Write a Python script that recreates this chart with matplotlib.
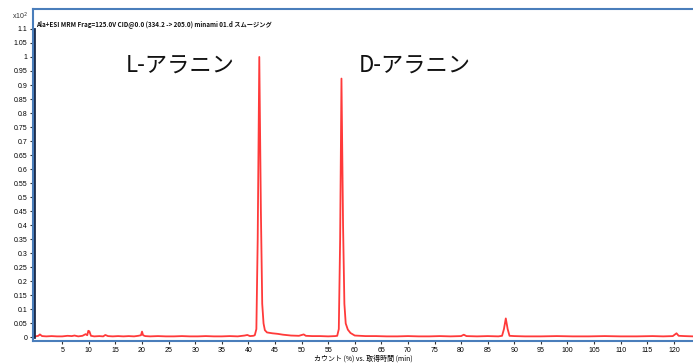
import matplotlib
matplotlib.use('Agg')
import matplotlib.pyplot as plt
import matplotlib.transforms as mtransforms

# chromatogram (time in min, counts x10^2)
times = [0.0, 0.5, 0.8, 1.2, 2, 3, 4, 5, 6, 6.8, 7.3, 8, 8.8, 9.4, 9.7, 9.9, 10.1, 10.4,
         11, 12, 12.7, 13.1, 13.6, 14.5, 15.5, 16.5, 17.5, 18.5, 19.3, 19.8, 20.0, 20.2,
         20.6, 21.5, 23, 24.5, 26, 27.5, 29, 30.5, 32, 33.5, 35, 36.5, 38, 39.3, 39.8,
         40.3, 40.9, 41.2, 41.5, 41.75, 42.05, 42.35, 42.6, 42.85, 43.1, 43.5, 44.5, 45.5,
         46.5, 48, 49.5, 50.4, 50.8, 52, 53.5, 55, 56.3, 56.7, 57.0, 57.25, 57.5, 57.8,
         58.05, 58.3, 58.7, 59.2, 60, 62, 64, 66, 68, 70, 72, 74, 76, 78, 80, 80.5, 81,
         83, 85, 87, 87.7, 88.05, 88.4, 88.75, 89.1, 90, 92, 95, 98, 101, 104, 107, 110,
         113, 116, 118, 119.8, 120.5, 120.9, 122, 123.6]
counts = [0.004, 0.006, 0.011, 0.005, 0.004, 0.005, 0.004, 0.004, 0.006, 0.005, 0.007,
          0.004, 0.006, 0.012, 0.008, 0.024, 0.022, 0.006, 0.004, 0.005, 0.004, 0.009,
          0.005, 0.004, 0.005, 0.004, 0.005, 0.004, 0.006, 0.008, 0.021, 0.008, 0.005,
          0.004, 0.005, 0.004, 0.004, 0.005, 0.004, 0.004, 0.005, 0.004, 0.004, 0.005,
          0.004, 0.007, 0.009, 0.005, 0.006, 0.008, 0.03, 0.35, 1.0, 0.45, 0.12, 0.05,
          0.026, 0.018, 0.015, 0.013, 0.01, 0.007, 0.006, 0.011, 0.006, 0.005, 0.005,
          0.004, 0.005, 0.006, 0.03, 0.35, 0.923, 0.4, 0.12, 0.05, 0.028, 0.016, 0.007,
          0.005, 0.005, 0.004, 0.004, 0.005, 0.004, 0.004, 0.005, 0.004, 0.005, 0.01,
          0.005, 0.004, 0.005, 0.004, 0.006, 0.03, 0.068, 0.03, 0.006, 0.005, 0.004,
          0.004, 0.005, 0.004, 0.004, 0.005, 0.004, 0.004, 0.005, 0.004, 0.005, 0.015,
          0.006, 0.005, 0.004]

yticks = [i * 0.05 for i in range(23)]
ytick_labels = ['0', '0.05', '0.1', '0.15', '0.2', '0.25', '0.3', '0.35', '0.4', '0.45',
                '0.5', '0.55', '0.6', '0.65', '0.7', '0.75', '0.8', '0.85', '0.9', '0.95',
                '1', '1.05', '1.1']
xticks = list(range(5, 125, 5))

peak_labels = ['L-アラニン', 'D-アラニン']
label_pos = [(27.2, 0.97), (71.2, 0.97)]

title = 'Ala+ESI MRM Frag=125.0V CID@0.0 (334.2 -> 205.0) minami 01.d スムージング'
xlabel = 'カウント (%) vs. 取得時間 (min)'

plt.rcParams['font.family'] = ['Noto Sans CJK JP', 'DejaVu Sans']

fig = plt.figure(figsize=(6.93, 3.64), dpi=100)
ax = fig.add_axes([33 / 693, 23 / 364, 660 / 693, 332 / 364])

ax.plot(times, counts, color='#ff2424', lw=1.3, alpha=0.9)

ax.set_xlim(-0.5, 123.6)
ax.set_ylim(-0.0125, 1.171)

frame = '#4a7ebb'
for side in ['left', 'top', 'bottom']:
    ax.spines[side].set_color(frame)
    ax.spines[side].set_linewidth(1.5)
ax.spines['right'].set_visible(False)

# dark y axis line over the frame
trans = mtransforms.blended_transform_factory(ax.transAxes, ax.transData)
ax.plot([0.002, 0.002], [0, 1.1], color='#1a2a4a', lw=2, transform=trans, clip_on=False)

ax.set_yticks(yticks)
ax.set_yticklabels(ytick_labels, family='Liberation Sans')
ax.set_xticks(xticks)
ax.set_xticklabels([str(v) for v in xticks], family='Liberation Sans')
ax.tick_params(axis='both', labelsize=5, length=2.5, width=0.8, color='#333333',
               pad=1.5)

ax.set_xlabel(xlabel, fontsize=5, labelpad=1)

ax.text(0.004, 0.955, title, transform=ax.transAxes, fontsize=4.5, ha='left',
        va='center', color='#111111', fontweight='bold')
fig.text(12 / 693, 1 - 16 / 364, 'x10$^{2}$', fontsize=5, ha='left', va='center',
         family='Liberation Sans', color='#333333')

for text, (tx, ty) in zip(peak_labels, label_pos):
    ax.text(tx, ty, text, fontsize=16, ha='center', va='center', color='#111111')

fig.savefig('out.png', dpi=100)
